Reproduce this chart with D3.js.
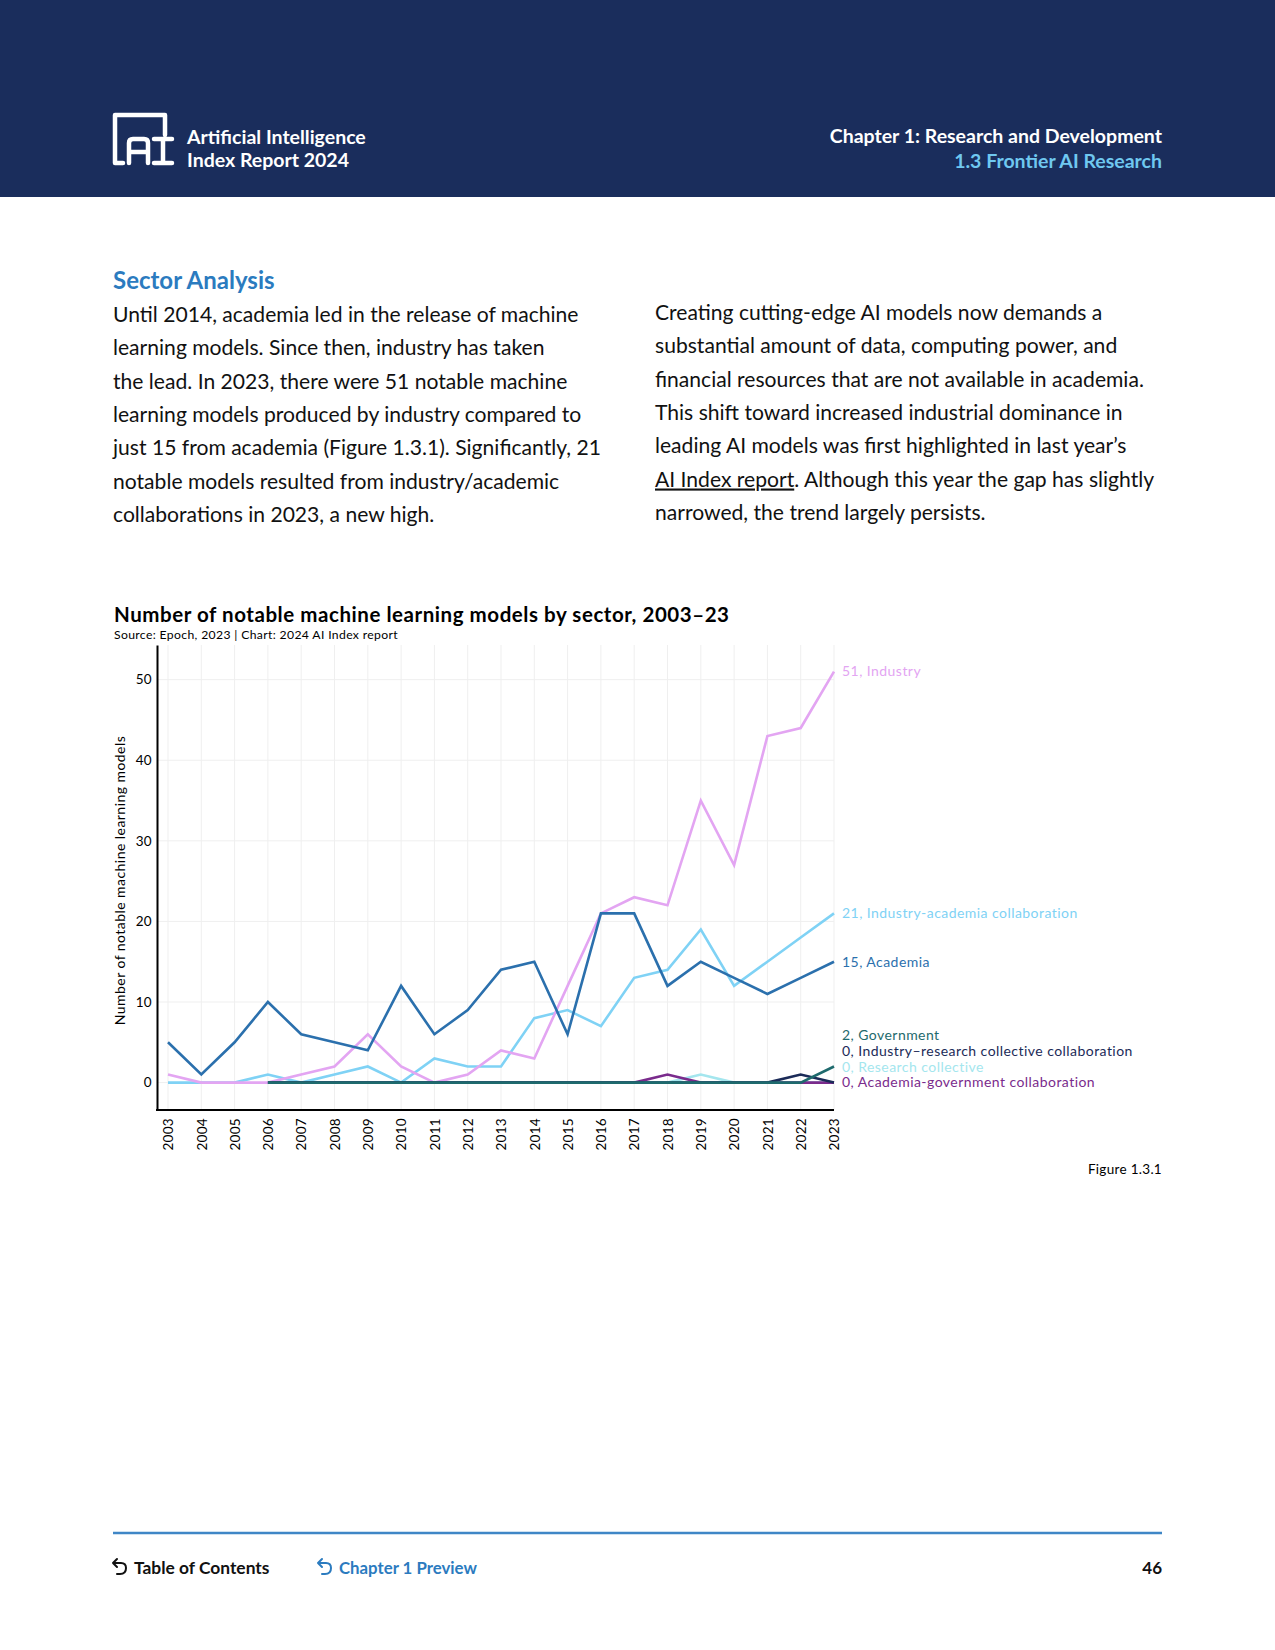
<!DOCTYPE html>
<html><head><meta charset="utf-8">
<script src="https://cdn.jsdelivr.net/npm/d3@7"></script>
<style>
html,body{margin:0;padding:0;background:#fff;}
svg{display:block;}
</style></head>
<body>
<svg id="page" width="1275" height="1650"></svg>
<script>
// ---------- DATA ----------
const years = [2003,2004,2005,2006,2007,2008,2009,2010,2011,2012,2013,2014,2015,2016,2017,2018,2019,2020,2021,2022,2023];
const industry          = [1,0,0,0,1,2,6,2,0,1,4,3,12,21,23,22,35,27,43,44,51];
const industryAcademia  = [0,0,0,1,0,1,2,0,3,2,2,8,9,7,13,14,19,12,15,18,21];
const academia          = [5,1,5,10,6,5,4,12,6,9,14,15,6,21,21,12,15,13,11,13,15];
const researchCollective= [null,null,null,0,0,0,0,0,0,0,0,0,0,0,0,0,1,0,0,0,0];
const academiaGov       = [null,null,null,0,0,0,0,0,0,0,0,0,0,0,0,1,0,0,0,0,0];
const industryResearch  = [null,null,null,0,0,0,0,0,0,0,0,0,0,0,0,0,0,0,0,1,0];
const government        = [null,null,null,0,0,0,0,0,0,0,0,0,0,0,0,0,0,0,0,0,2];
const yTicks = [0,10,20,30,40,50];
const seriesNames = ["Industry","Industry-academia collaboration","Academia","Research collective","Academia-government collaboration","Industry–research collective collaboration","Government"];
const seriesColors = ["#e3a5f2","#7fd2f5","#2b70ad","#a4e6ee","#7a2b8c","#1b2b58","#1e6a6d"];
const seriesValues = [industry,industryAcademia,academia,researchCollective,academiaGov,industryResearch,government];
const endLabelOrder = ["Industry","Industry-academia collaboration","Academia","Government","Industry–research collective collaboration","Research collective","Academia-government collaboration"];

const leftText = ["Until 2014, academia led in the release of machine",
"learning models. Since then, industry has taken",
"the lead. In 2023, there were 51 notable machine",
"learning models produced by industry compared to",
"just 15 from academia (Figure 1.3.1). Significantly, 21",
"notable models resulted from industry/academic",
"collaborations in 2023, a new high."];
const rightText = ["Creating cutting-edge AI models now demands a",
"substantial amount of data, computing power, and",
"financial resources that are not available in academia.",
"This shift toward increased industrial dominance in",
"leading AI models was first highlighted in last year’s",
"__AI Index report__. Although this year the gap has slightly",
"narrowed, the trend largely persists."];

// ---------- PAGE ----------
const svg = d3.select("#page");
const FONT = "Lato, 'Open Sans', sans-serif";
const NAVY = "#1a2d5c";
const BLUE = "#2b7bbf";

svg.append("rect").attr("x",0).attr("y",0).attr("width",1275).attr("height",197).attr("fill",NAVY);
const logo = svg.append("g").attr("fill","none").attr("stroke","#fff").attr("stroke-width",4.5).attr("stroke-linecap","round").attr("stroke-linejoin","round");
logo.append("path").attr("d","M165,135 L165,115 L115,115 L115,163 L123,163");
logo.append("path").attr("d","M129,163 L129,143 Q129,139 133,139 L144,139 Q148,139 148,143 L148,163 M129,152 L148,152");
logo.append("path").attr("d","M154,139 L172,139 M163,139 L163,163 M154,163 L172,163");

svg.append("text").attr("x",187).attr("y",144).attr("fill","#fff").attr("font-family",FONT).attr("font-weight",700).attr("font-size",19.5).text("Artificial Intelligence");
svg.append("text").attr("x",187).attr("y",167).attr("fill","#fff").attr("font-family",FONT).attr("font-weight",700).attr("font-size",19.5).text("Index Report 2024");
svg.append("text").attr("x",1162).attr("y",143).attr("text-anchor","end").attr("fill","#fff").attr("font-family",FONT).attr("font-weight",700).attr("font-size",19.5).text("Chapter 1: Research and Development");
svg.append("text").attr("x",1162).attr("y",168).attr("text-anchor","end").attr("fill","#6fc8f0").attr("font-family",FONT).attr("font-weight",700).attr("font-size",19.5).text("1.3 Frontier AI Research");

svg.append("text").attr("x",113).attr("y",289).attr("fill",BLUE).attr("font-family",FONT).attr("font-weight",700).attr("font-size",24).text("Sector Analysis");
leftText.forEach((t,i)=>{
  svg.append("text").attr("x",113).attr("y",322+i*33.3).attr("fill","#111").attr("font-family",FONT).attr("font-size",21.1).text(t);
});
rightText.forEach((t,i)=>{
  const tx = svg.append("text").attr("x",655).attr("y",320+i*33.3).attr("fill","#111").attr("font-family",FONT).attr("font-size",21.1);
  if (t.startsWith("__")) {
    const parts = t.split("__");
    tx.append("tspan").attr("text-decoration","underline").text(parts[1]);
    tx.append("tspan").text(parts[2]);
  } else tx.text(t);
});

svg.append("text").attr("x",114).attr("y",622).attr("fill","#000").attr("font-family",FONT).attr("font-weight",700).attr("font-size",20.5).attr("letter-spacing",0.55).text("Number of notable machine learning models by sector, 2003–23");
svg.append("text").attr("x",114).attr("y",639).attr("fill","#000").attr("font-family",FONT).attr("font-size",12.2).attr("letter-spacing",0.35).text("Source: Epoch, 2023 | Chart: 2024 AI Index report");

// ---------- CHART ----------
const x = d3.scaleLinear().domain([2003,2023]).range([168,834]);
const y = d3.scaleLinear().domain([-3.4,54.3]).range([1110,645]);
const axisX0 = 157;

const g = svg.append("g");
g.append("g").selectAll("line").data(years).join("line")
  .attr("x1",d=>x(d)).attr("x2",d=>x(d)).attr("y1",y.range()[1]).attr("y2",y.range()[0])
  .attr("stroke","#efefef").attr("stroke-width",1);
g.append("g").selectAll("line").data(yTicks).join("line")
  .attr("x1",axisX0).attr("x2",x(2023)).attr("y1",d=>y(d)).attr("y2",d=>y(d))
  .attr("stroke","#efefef").attr("stroke-width",1);

const ya = g.append("g").attr("transform",`translate(${axisX0},0)`)
  .call(d3.axisLeft(y).tickValues(yTicks).tickSize(0).tickPadding(5).tickSizeOuter(0));
ya.select(".domain").attr("stroke","#000").attr("stroke-width",2);
ya.selectAll("text").attr("font-family",FONT).attr("font-size",13.5).attr("letter-spacing",0.3).attr("fill","#000");

const xa = g.append("g").attr("transform",`translate(0,${y.range()[0]})`)
  .call(d3.axisBottom(x).tickValues(years).tickFormat(d3.format("d")).tickSize(0));
xa.select(".domain").remove();
xa.selectAll("text").attr("font-family",FONT).attr("font-size",13.5).attr("letter-spacing",0.3).attr("fill","#000")
  .attr("transform","rotate(-90)").attr("text-anchor","end").attr("dx","-8").attr("dy","0.35em").attr("y",0).attr("x",0);
g.append("line").attr("x1",axisX0-1).attr("x2",x(2023)).attr("y1",y.range()[0]).attr("y2",y.range()[0]).attr("stroke","#000").attr("stroke-width",2);

svg.append("text").attr("transform",`translate(125,${(y.range()[0]+y.range()[1])/2+3}) rotate(-90)`)
  .attr("text-anchor","middle").attr("font-family",FONT).attr("font-size",14).attr("letter-spacing",0.45).attr("fill","#000")
  .text("Number of notable machine learning models");

const line = d3.line().defined(d=>d.v!==null).x(d=>x(d.year)).y(d=>y(d.v));
const drawOrder = [1,0,2,3,4,5,6];
drawOrder.forEach(i=>{
  const data = years.map((yr,j)=>({year:yr,v:seriesValues[i][j]}));
  g.append("path").datum(data).attr("d",line).attr("fill","none")
    .attr("stroke",seriesColors[i]).attr("stroke-width",2.6).attr("stroke-linejoin","miter");
});

const smallLabels = endLabelOrder.slice(3);
endLabelOrder.forEach((name,k)=>{
  const i = seriesNames.indexOf(name);
  const last = seriesValues[i][seriesValues[i].length-1];
  let ly = y(last);
  const si = smallLabels.indexOf(name);
  if (si>=0) ly = y(0) - (smallLabels.length-1-si)*15.8;
  svg.append("text").attr("x",842).attr("y",ly).attr("dy","0.35em")
    .attr("font-family",FONT).attr("font-size",14).attr("letter-spacing",0.45).attr("fill",seriesColors[i])
    .text(`${last}, ${name}`);
});

svg.append("text").attr("x",1162).attr("y",1174).attr("text-anchor","end").attr("font-family",FONT).attr("font-size",13.5).attr("letter-spacing",0.3).attr("fill","#000").text("Figure 1.3.1");

// footer
svg.append("line").attr("x1",113).attr("x2",1162).attr("y1",1533).attr("y2",1533).attr("stroke","#3f86c6").attr("stroke-width",2.5);
function arrow(x0,col){
  svg.append("path").attr("d",`M${x0},1563 L${x0+8},1563 Q${x0+13},1563 ${x0+13},1568 Q${x0+13},1574 ${x0+7},1574 L${x0+4},1574 M${x0},1563 L${x0+4},1559 M${x0},1563 L${x0+4},1567`)
    .attr("fill","none").attr("stroke",col).attr("stroke-width",2).attr("stroke-linecap","round");
}
arrow(113,"#111");
arrow(318,BLUE);
svg.append("text").attr("x",134).attr("y",1574).attr("font-family",FONT).attr("font-weight",700).attr("font-size",17.4).attr("fill","#111").text("Table of Contents");
svg.append("text").attr("x",339).attr("y",1574).attr("font-family",FONT).attr("font-weight",700).attr("font-size",16.8).attr("fill",BLUE).text("Chapter 1 Preview");
svg.append("text").attr("x",1162).attr("y",1574).attr("text-anchor","end").attr("font-family",FONT).attr("font-weight",700).attr("font-size",17).attr("fill","#111").text("46");
</script>
</body></html>
